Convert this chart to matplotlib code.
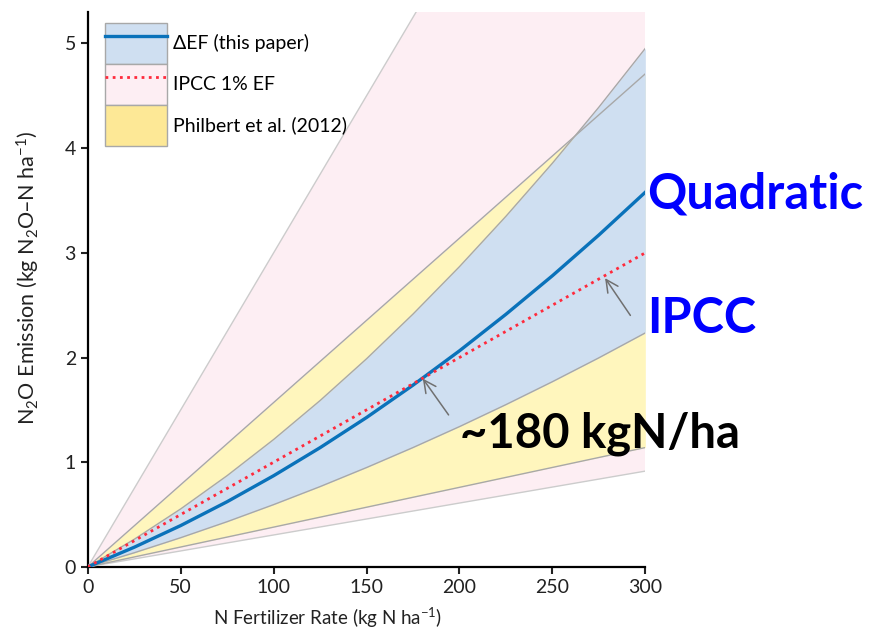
import matplotlib
matplotlib.use("Agg")
import matplotlib.pyplot as plt
from matplotlib.patches import Patch
from matplotlib.lines import Line2D

plt.rcParams['font.family'] = ['Lato', 'DejaVu Sans']
plt.rcParams['mathtext.default'] = 'regular'

# fertilizer rate grid (kg N/ha)
n_rate = [0, 25, 50, 75, 100, 125, 150, 175, 200, 225, 250, 275, 300]

# delta EF (this paper): central curve and band
def_mid   = [0, 0.188, 0.395, 0.623, 0.871, 1.139, 1.427, 1.736, 2.064, 2.413, 2.781, 3.170, 3.579]
def_upper = [0, 0.264, 0.554, 0.872, 1.217, 1.589, 1.988, 2.415, 2.868, 3.349, 3.856, 4.391, 4.953]
def_lower = [0, 0.135, 0.279, 0.432, 0.595, 0.767, 0.949, 1.140, 1.340, 1.550, 1.769, 1.997, 2.235]

# straight-line bands: emission at 0 and at 300 kg N/ha
line_x = [0, 300]
ipcc_mid   = [0, 3.0]     # 1% EF
ipcc_upper = [0, 9.0]     # 3%
ipcc_lower = [0, 0.915]   # ~0.3%
phil_upper = [0, 4.71]
phil_lower = [0, 1.14]

c_blue_fill = '#cfdff1'
c_pink_fill = '#fdeef3'
c_yel_fill = '#fff6bd'
c_yel_leg = '#fde896'

fig = plt.figure(figsize=(8.78, 6.32), dpi=100)
ax = fig.add_axes([0.100, 0.103, 0.635, 0.878])

# bands
ax.fill_between(line_x, ipcc_lower, ipcc_upper, color=c_pink_fill, lw=0, zorder=1)
ax.fill_between(line_x, phil_lower, phil_upper, color=c_yel_fill, lw=0, zorder=2)
ax.fill_between(n_rate, def_lower, def_upper, color=c_blue_fill, lw=0, zorder=3)

# band edges
for yy in (ipcc_lower, ipcc_upper):
    ax.plot(line_x, yy, color='#cccccc', lw=1, zorder=4)
for yy in (phil_lower, phil_upper):
    ax.plot(line_x, yy, color='#a8a8a8', lw=1, zorder=4)
for yy in (def_lower, def_upper):
    ax.plot(n_rate, yy, color='#a8a8a8', lw=1, zorder=4)

ax.plot(n_rate, def_mid, color='#0a72ba', lw=2.4, zorder=5)
ax.plot(line_x, ipcc_mid, color='#ff2a3c', lw=2, ls=(0, (1, 1.6)), zorder=6)

# arrows pointing at the crossing / IPCC line
ax.annotate('', xy=(179.4, 1.82), xytext=(195, 1.43),
            arrowprops=dict(arrowstyle='->', color='#707070', lw=1.1, mutation_scale=22), zorder=7)
ax.annotate('', xy=(277.5, 2.78), xytext=(292.8, 2.38),
            arrowprops=dict(arrowstyle='->', color='#707070', lw=1.1, mutation_scale=22), zorder=7)

# big overlay labels
ax.text(301.2, 3.56, 'Quadratic', color='#0000ff', fontsize=35, fontweight='bold',
        ha='left', va='center', clip_on=False, zorder=8)
ax.text(301.2, 2.37, 'IPCC', color='#0000ff', fontsize=35, fontweight='bold',
        ha='left', va='center', clip_on=False, zorder=8)
ax.text(200.5, 1.27, '~180 kgN/ha', color='black', fontsize=34, fontweight='bold',
        ha='left', va='center', clip_on=False, zorder=8)

ax.set_xlim(0, 300)
ax.set_ylim(0, 5.3)
ax.set_xticks([0, 50, 100, 150, 200, 250, 300])
ax.set_yticks([0, 1, 2, 3, 4, 5])
for s in ('top', 'right'):
    ax.spines[s].set_visible(False)
for s in ('left', 'bottom'):
    ax.spines[s].set_linewidth(1.6)
ax.tick_params(direction='out', length=5, width=1.5, labelsize=14, colors='#222222')
ax.tick_params(axis='x', pad=4)

ax.set_xlabel('N Fertilizer Rate (kg N ha$^{-1}$)', fontsize=13.5, color='#222222')
ax.set_ylabel('N$_2$O Emission (kg N$_2$O–N ha$^{-1}$)', fontsize=15.5, color='#222222')
ax.xaxis.set_label_coords(0.431, -0.07)
ax.yaxis.set_label_coords(-0.083, 0.52)

# legend: filled boxes with line markers
h_def = (Patch(facecolor=c_blue_fill, edgecolor='#a8a8a8', lw=1),
         Line2D([], [], color='#0a72ba', lw=2.4))
h_ipcc = (Patch(facecolor=c_pink_fill, edgecolor='#a8a8a8', lw=1),
          Line2D([], [], color='#ff2a3c', lw=2, ls=(0, (1, 1.6))))
h_phil = Patch(facecolor=c_yel_leg, edgecolor='#a8a8a8', lw=1)
ax.legend([h_def, h_ipcc, h_phil],
          ['ΔEF (this paper)', 'IPCC 1% EF', 'Philbert et al. (2012)'],
          loc='upper left', bbox_to_anchor=(0.0305, 0.980), frameon=False,
          fontsize=14, handlelength=3.19, handleheight=2.87, labelspacing=0,
          handletextpad=0.3, borderpad=0, borderaxespad=0)

fig.savefig('out.png', dpi=100)
